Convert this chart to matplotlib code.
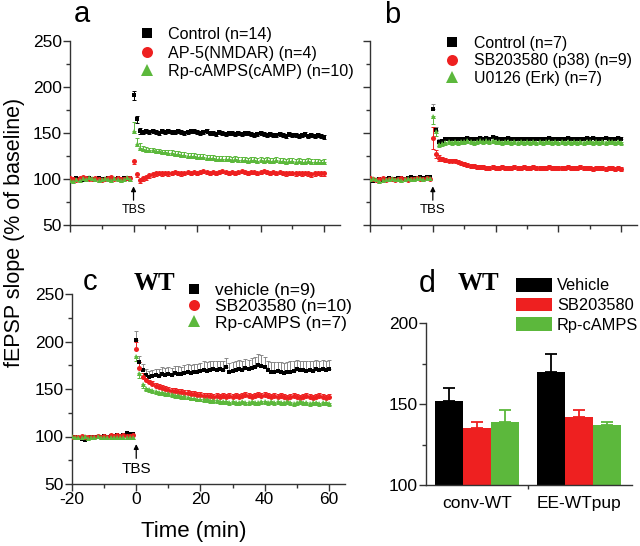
import numpy as np
import matplotlib
matplotlib.use("Agg")
import matplotlib.pyplot as plt

plt.rcParams['font.family'] = ['Liberation Sans', 'DejaVu Sans']
plt.rcParams['axes.unicode_minus'] = False

BLACK = '#000000'
RED = '#ee2020'
GREEN = '#5cb83c'

# ---------------- time axes (min) ----------------
t_base = list(range(-20, 0))      # baseline samples
t_post = list(range(0, 61))       # after TBS

# ---------------- panel a ----------------
a_labels = ['Control (n=14)', 'AP-5(NMDAR) (n=4)', 'Rp-cAMPS(cAMP) (n=10)']
a_ctrl_base = [100, 99, 101, 100, 99, 100, 101, 100, 99, 101, 100, 100, 101, 99, 100, 101, 100, 101, 100, 101]
a_ap5_base = [101, 100, 99, 101, 102, 101, 100, 100, 101, 100, 99, 100, 101, 102, 100, 101, 100, 100, 101, 101]
a_rp_base = [99, 98, 100, 99, 101, 100, 102, 101, 100, 99, 100, 101, 100, 99, 101, 100, 99, 100, 102, 100]
a_ctrl_post = [191, 165, 152, 151, 152, 151, 152, 151, 150, 152,
               151, 152, 151, 151, 152, 151, 150, 151, 152, 152,
               151, 150, 151, 152, 150, 150, 149, 151, 150, 149,
               150, 150, 149, 150, 149, 150, 150, 149, 148, 149,
               150, 149, 148, 149, 148, 148, 149, 148, 147, 149,
               148, 148, 147, 148, 149, 147, 148, 147, 148, 147, 146]
a_ap5_post = [120, 105, 99, 101, 102, 104, 105, 106, 107, 106,
              107, 106, 107, 108, 107, 106, 107, 108, 107, 108,
              107, 108, 109, 108, 107, 108, 107, 108, 109, 108,
              107, 108, 107, 108, 109, 108, 107, 108, 108, 107,
              108, 109, 108, 107, 108, 107, 108, 107, 106, 107,
              107, 106, 107, 106, 107, 106, 105, 106, 107, 106, 106]
a_rp_post = [152, 138, 134, 133, 132, 131, 131, 130, 130, 129,
             129, 128, 128, 127, 127, 126, 126, 125, 125, 125,
             124, 124, 124, 123, 123, 123, 122, 122, 122, 122,
             122, 121, 122, 121, 121, 121, 120, 121, 121, 120,
             121, 120, 121, 120, 120, 121, 120, 120, 119, 120,
             120, 119, 120, 119, 119, 120, 119, 119, 119, 118, 119]
a_ctrl_err = [5, 4, 3] + [2] * 58
a_ap5_err = [4, 3, 3] + [3] * 58
a_rp_err = [10, 7, 5] + [3] * 58

# ---------------- panel b ----------------
b_labels = ['Control (n=7)', 'SB203580 (p38) (n=9)', 'U0126 (Erk) (n=7)']
b_ctrl_base = [99, 98, 99, 100, 99, 100, 101, 100, 100, 101, 101, 100, 101, 102, 101, 101, 102, 101, 102, 102]
b_sb_base = [101, 100, 99, 100, 101, 99, 100, 100, 99, 100, 101, 100, 99, 100, 100, 101, 100, 100, 101, 100]
b_u0_base = [100, 101, 100, 98, 99, 100, 100, 101, 100, 100, 99, 100, 101, 100, 100, 101, 101, 100, 101, 101]
b_ctrl_post = [176, 153, 140, 141, 143, 143, 144, 143, 144, 143,
               144, 145, 144, 143, 144, 145, 144, 145, 144, 146,
               145, 144, 143, 144, 145, 144, 143, 144, 143, 144,
               144, 143, 144, 143, 144, 143, 144, 145, 144, 143,
               144, 143, 144, 145, 144, 143, 144, 143, 144, 145,
               144, 145, 144, 143, 144, 145, 144, 143, 144, 145, 144]
b_sb_post = [145, 127, 123, 122, 121, 120, 120, 120, 119, 117,
             116, 115, 114, 114, 113, 113, 113, 112, 112, 113,
             112, 112, 113, 112, 112, 112, 113, 112, 112, 113,
             112, 112, 113, 112, 112, 112, 112, 113, 112, 112,
             112, 112, 112, 113, 112, 112, 112, 113, 112, 112,
             112, 111, 112, 112, 112, 111, 112, 112, 111, 112, 111]
b_u0_post = [169, 152, 138, 139, 140, 141, 140, 141, 140, 141,
             141, 142, 141, 140, 141, 142, 141, 142, 141, 142,
             141, 141, 140, 141, 141, 140, 141, 140, 141, 140,
             141, 140, 141, 140, 141, 140, 141, 141, 140, 141,
             140, 141, 140, 141, 140, 141, 140, 141, 140, 141,
             141, 140, 141, 140, 141, 140, 141, 141, 140, 141, 140]
b_ctrl_err = [6, 4, 3] + [2] * 58
b_sb_err = [12, 4, 3] + [2] * 58
b_u0_err = [9, 5, 3] + [3] * 58

# ---------------- panel c ----------------
c_labels = ['vehicle (n=9)', 'SB203580 (n=10)', 'Rp-cAMPS (n=7)']
c_veh_base = [99, 100, 98, 97, 96, 98, 99, 100, 99, 100, 101, 100, 101, 101, 102, 101, 102, 104, 103, 103]
c_sb_base = [100, 99, 100, 101, 99, 100, 99, 100, 101, 100, 101, 100, 102, 101, 102, 101, 102, 101, 101, 102]
c_rp_base = [101, 100, 99, 100, 101, 98, 99, 100, 101, 100, 99, 100, 100, 99, 100, 100, 99, 100, 100, 99]
c_veh_post = [202, 178, 170, 165, 163, 164, 165, 164, 166, 165,
              166, 165, 167, 166, 166, 167, 168, 167, 168, 168,
              169, 170, 169, 170, 171, 170, 171, 170, 173, 168,
              169, 170, 171, 170, 172, 171, 172, 173, 175, 174,
              173, 170, 168, 168, 169, 168, 167, 168, 168, 169,
              171, 170, 170, 169, 170, 169, 171, 170, 171, 170, 171]
c_sb_post = [192, 172, 163, 159, 157, 155, 153, 152, 151, 150,
             149, 148, 148, 147, 147, 146, 146, 145, 145, 144,
             144, 143, 143, 143, 142, 143, 142, 143, 142, 143,
             142, 143, 142, 143, 144, 143, 142, 143, 144, 143,
             144, 143, 142, 143, 142, 143, 142, 141, 142, 143,
             142, 141, 142, 143, 142, 141, 142, 143, 142, 141, 142]
c_rp_post = [185, 167, 155, 151, 150, 149, 148, 147, 147, 146,
             146, 145, 144, 144, 143, 143, 142, 141, 141, 140,
             140, 139, 139, 138, 138, 138, 137, 137, 137, 136,
             137, 136, 136, 137, 136, 136, 137, 136, 136, 137,
             137, 136, 137, 136, 137, 136, 136, 137, 136, 135,
             136, 137, 136, 136, 135, 136, 136, 135, 136, 136, 135]
c_veh_err = [9, 7, 6, 6, 6, 6, 6, 7, 7, 7,
             7, 7, 7, 8, 7, 8, 8, 8, 8, 8,
             8, 9, 9, 9, 9, 9, 9, 9, 10, 9,
             9, 9, 10, 10, 10, 10, 11, 11, 12, 12,
             11, 10, 10, 10, 9, 10, 10, 10, 11, 11,
             10, 10, 10, 10, 10, 10, 10, 10, 10, 10, 10]
c_sb_err = [8, 6, 4] + [3] * 58
c_rp_err = [5, 5, 4] + [3] * 58

# ---------------- panel d ----------------
d_groups = ['conv-WT', 'EE-WTpup']
d_series = ['Vehicle', 'SB203580', 'Rp-cAMPS']
d_vehicle = [152, 170]
d_sb = [135, 142]
d_rp = [139, 137]
d_vehicle_err = [8, 11]
d_sb_err = [4, 4]
d_rp_err = [7, 2]

# ---------------- figure ----------------
W, H = 640, 546
fig = plt.figure(figsize=(W / 100, H / 100), dpi=100)


def px_axes(left, top, right, bottom):
    return fig.add_axes([left / W, 1 - bottom / H, (right - left) / W, (bottom - top) / H])


def style_axes(ax, xlabels=True, ylabels=True):
    for s in ['top', 'right']:
        ax.spines[s].set_visible(False)
    for s in ['left', 'bottom']:
        ax.spines[s].set_color('#333333')
        ax.spines[s].set_linewidth(1.0)
    ax.tick_params(which='major', direction='out', length=5, width=1.0, color='#333333',
                   labelsize=12.5, pad=1)
    ax.tick_params(which='minor', direction='out', length=3, width=1.0, color='#333333')
    if not xlabels:
        ax.tick_params(axis='x', labelbottom=False)
    if not ylabels:
        ax.tick_params(axis='y', labelleft=False)


def time_panel(ax, series, err_sides, xlabels, ylabels):
    handles = []
    for (base, post, err, color, marker, label), side in zip(series, err_sides):
        lo = [e if side in ('lo', 'both') else 0 for e in err]
        hi = [e if side in ('hi', 'both') else 0 for e in err]
        ecol = '#888888' if color == BLACK and side == 'hi' else color
        ax.errorbar(t_post, post, yerr=[lo, hi], fmt='none', ecolor=ecol,
                    elinewidth=0.7, capsize=1.3, capthick=0.7, zorder=2)
        ms = 3.6 if marker != 's' else 3.2
        ax.plot(t_base, base, linestyle='none', marker=marker, color=color,
                markersize=ms, markeredgewidth=0, zorder=3)
        h, = ax.plot(t_post, post, linestyle='none', marker=marker, color=color,
                     markersize=ms, markeredgewidth=0, zorder=3, label=label)
        handles.append(h)
    ax.set_xlim(-20, 65)
    ax.set_ylim(50, 250)
    ax.set_xticks([-20, 0, 20, 40, 60])
    ax.set_xticks([-10, 10, 30, 50], minor=True)
    ax.set_yticks([50, 100, 150, 200, 250])
    ax.set_yticks([75, 125, 175, 225], minor=True)
    style_axes(ax, xlabels, ylabels)
    return handles


def add_tbs(ax, size):
    ax.annotate('', xy=(0, 92), xytext=(0, 77),
                arrowprops=dict(arrowstyle='-|>', color='black', lw=0.9,
                                mutation_scale=7, shrinkA=0, shrinkB=0))
    ax.text(0, 73, 'TBS', ha='center', va='top', fontsize=size)


def add_legend(ax, handles, labels, x, top, fs=12.5, spacing=0.05, tp=0.75):
    leg = ax.legend(handles, labels, loc='upper left',
                    bbox_to_anchor=(x / W, 1 - top / H), bbox_transform=fig.transFigure,
                    frameon=False, fontsize=fs, handlelength=0.9, handletextpad=tp,
                    labelspacing=spacing, borderpad=0, borderaxespad=0, markerscale=2.2)
    return leg


# panel a
axa = px_axes(70, 41, 340, 225)
ha = time_panel(axa,
                [(a_ctrl_base, a_ctrl_post, a_ctrl_err, BLACK, 's', a_labels[0]),
                 (a_ap5_base, a_ap5_post, a_ap5_err, RED, 'o', a_labels[1]),
                 (a_rp_base, a_rp_post, a_rp_err, GREEN, '^', a_labels[2])],
                ['both', 'lo', 'hi'], xlabels=False, ylabels=True)
add_tbs(axa, 9)
add_legend(axa, ha, a_labels, 140, 27, fs=11.6, spacing=0.22, tp=0.85)
fig.text(82 / W, 1 - 14 / H, 'a', fontsize=21, ha='center', va='center')

# panel b
axb = px_axes(370, 41, 637, 225)
hb = time_panel(axb,
                [(b_ctrl_base, b_ctrl_post, b_ctrl_err, BLACK, 's', b_labels[0]),
                 (b_sb_base, b_sb_post, b_sb_err, RED, 'o', b_labels[1]),
                 (b_u0_base, b_u0_post, b_u0_err, GREEN, '^', b_labels[2])],
                ['hi', 'both', 'lo'], xlabels=False, ylabels=False)
add_tbs(axb, 9.5)
add_legend(axb, hb, b_labels, 445, 36, fs=11.4, spacing=0.15, tp=0.9)
fig.text(392 / W, 1 - 15 / H, 'b', fontsize=21, ha='center', va='center')

# panel c
axc = px_axes(72, 294, 345, 484)
hc = time_panel(axc,
                [(c_veh_base, c_veh_post, c_veh_err, BLACK, 's', c_labels[0]),
                 (c_sb_base, c_sb_post, c_sb_err, RED, 'o', c_labels[1]),
                 (c_rp_base, c_rp_post, c_rp_err, GREEN, '^', c_labels[2])],
                ['hi', 'hi', 'lo'], xlabels=True, ylabels=True)
add_tbs(axc, 11)
add_legend(axc, hc, c_labels, 186, 283, spacing=0.06)
fig.text(90 / W, 1 - 282 / H, 'c', fontsize=21, ha='center', va='center')
fig.text(154 / W, 1 - 283 / H, 'WT', fontsize=18, fontweight='bold',
         family='Liberation Serif', ha='center', va='center')
fig.text(194 / W, 1 - 532 / H, 'Time (min)', fontsize=16, ha='center', va='center')

# panel d
axd = px_axes(426, 323, 632, 485)
xg = np.arange(len(d_groups))
bw = 0.275
vals = [d_vehicle, d_sb, d_rp]
errs = [d_vehicle_err, d_sb_err, d_rp_err]
cols = [BLACK, RED, GREEN]
bars = []
for i, (v, e, c) in enumerate(zip(vals, errs, cols)):
    b = axd.bar(xg + (i - 1) * bw, v, width=bw, color=c, edgecolor='none', zorder=2,
                label=d_series[i])
    axd.errorbar(xg + (i - 1) * bw, v, yerr=[[0] * len(e), e], fmt='none', ecolor=c,
                 elinewidth=1.3, capsize=4, capthick=1.3, zorder=1)
    bars.append(b)
axd.set_xlim(-0.5, 1.52)
axd.set_ylim(100, 200)
axd.set_yticks([100, 150, 200])
axd.set_yticks([125, 175], minor=True)
axd.set_xticks(xg)
axd.set_xticklabels(d_groups)
axd.set_xticks([0.5], minor=True)
style_axes(axd)
axd.tick_params(axis='x', which='major', length=0, pad=8, labelsize=12.5)
axd.legend(bars, d_series, loc='upper left', bbox_to_anchor=(516 / W, 1 - 278 / H),
           bbox_transform=fig.transFigure, frameon=False, fontsize=11.8,
           handlelength=2.2, handleheight=0.9, handletextpad=0.3,
           labelspacing=0.25, borderpad=0, borderaxespad=0)
fig.text(427 / W, 1 - 284 / H, 'd', fontsize=22, ha='center', va='center')
fig.text(478 / W, 1 - 284 / H, 'WT', fontsize=18, fontweight='bold',
         family='Liberation Serif', ha='center', va='center')

fig.text(15 / W, 1 - 232 / H, 'fEPSP slope (% of baseline)', rotation=90,
         fontsize=15.5, ha='center', va='center')

fig.savefig('out.png', dpi=100)
